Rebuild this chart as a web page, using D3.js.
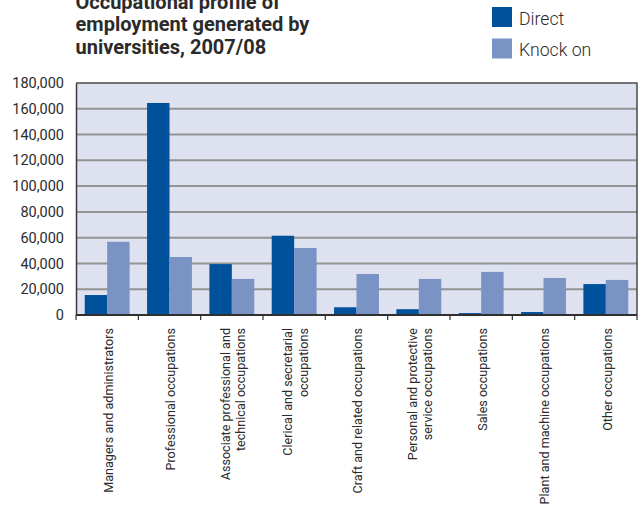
<!DOCTYPE html>
<html>
<head>
<meta charset="utf-8">
<script src="https://cdn.jsdelivr.net/npm/d3@7"></script>
<style>
  html, body { margin: 0; padding: 0; background: #fff; }
  svg { display: block; }
  text { font-family: Roboto, "Noto Sans", sans-serif; fill: #2b2b2b; }
</style>
</head>
<body>
<svg id="chart" width="638" height="507"></svg>
<script>
// Occupation categories (label lines for the rotated axis text)
const categories = [
  ["Managers and administrators"],
  ["Professional occupations"],
  ["Associate professional and", "technical occupations"],
  ["Clerical and secretarial", "occupations"],
  ["Craft and related occupations"],
  ["Personal and protective", "service occupations"],
  ["Sales occupations"],
  ["Plant and machine occupations"],
  ["Other occupations"]
];
const seriesNames = ["Direct", "Knock on"];
const directValues  = [15500, 164500, 39500, 61500, 6000, 4500, 1500, 2300, 24000];
const knockOnValues = [56800, 45000, 28000, 52000, 31800, 28000, 33400, 28700, 27200];
const yTicks = [0, 20000, 40000, 60000, 80000, 100000, 120000, 140000, 160000, 180000];
const titleLines = ["Occupational profile of", "employment generated by", "universities, 2007/08"];

const colors = { "Direct": "#00519b", "Knock on": "#7a93c5" };

const svg = d3.select("#chart");
const plotLeft = 76, plotRight = 637, plotTop = 83, plotBottom = 315;

const keys = categories.map((c, i) => i);
const x0 = d3.scaleBand().domain(keys).range([plotLeft, plotRight]).paddingInner(0.28).paddingOuter(0.14);
const x1 = d3.scaleBand().domain(seriesNames).range([0, x0.bandwidth()]);
const y = d3.scaleLinear().domain([0, 180000]).range([plotBottom, plotTop]);

// plot background
svg.append("rect").attr("x", plotLeft).attr("y", plotTop)
  .attr("width", plotRight - plotLeft).attr("height", plotBottom - plotTop)
  .attr("fill", "#dee1ef");

// horizontal gridlines
svg.append("g").selectAll("line").data(yTicks.filter(t => t > 0 && t < 180000)).join("line")
  .attr("x1", plotLeft).attr("x2", plotRight)
  .attr("y1", d => y(d)).attr("y2", d => y(d))
  .attr("stroke", "#939393").attr("stroke-width", 2);

// bars
const rows = keys.map(i => ({ i, values: [
  { key: "Direct", value: directValues[i] },
  { key: "Knock on", value: knockOnValues[i] }
]}));
svg.append("g").selectAll("g").data(rows).join("g")
  .attr("transform", d => `translate(${x0(d.i)},0)`)
  .selectAll("rect").data(d => d.values).join("rect")
  .attr("x", d => x1(d.key)).attr("width", x1.bandwidth())
  .attr("y", d => y(d.value)).attr("height", d => y(0) - y(d.value))
  .attr("fill", d => colors[d.key]);

// frame: top and right edges
svg.append("path")
  .attr("d", `M${plotLeft},${plotTop}H${plotRight}V${plotBottom}`)
  .attr("fill", "none").attr("stroke", "#4a4a4a").attr("stroke-width", 1.5);

// y axis
const yAxis = svg.append("g").attr("transform", `translate(${plotLeft},0)`)
  .call(d3.axisLeft(y).tickValues(yTicks).tickSize(0).tickPadding(12)
    .tickFormat(d3.format(",")));
yAxis.select(".domain").attr("stroke", "#3a3a3a").attr("stroke-width", 1.5);
yAxis.selectAll("text").attr("font-size", 14.5).attr("fill", "#2b2b2b")
  .style("font-family", "Roboto, sans-serif");

// x axis baseline with boundary ticks
const step = x0.step();
const boundaries = d3.range(categories.length + 1).map(k => plotLeft + k * step);
svg.append("line").attr("x1", plotLeft).attr("x2", plotRight)
  .attr("y1", plotBottom).attr("y2", plotBottom)
  .attr("stroke", "#2f2f2f").attr("stroke-width", 2);
svg.append("g").selectAll("line").data(boundaries).join("line")
  .attr("x1", d => d).attr("x2", d => d)
  .attr("y1", plotBottom).attr("y2", plotBottom + 5)
  .attr("stroke", "#2f2f2f").attr("stroke-width", 1.2);

// rotated category labels
const lineGap = 16;
const lab = svg.append("g").selectAll("text").data(categories).join("text")
  .attr("transform", (d, i) => `translate(${x0(i) + x0.bandwidth() / 2},${plotBottom + 13}) rotate(-90)`)
  .attr("text-anchor", "end")
  .attr("font-size", 12.6);
lab.selectAll("tspan").data(d => d.map((t, k) => ({ t, k, n: d.length }))).join("tspan")
  .attr("x", 0)
  .attr("y", d => (d.k - (d.n - 1) / 2) * lineGap)
  .attr("dy", "0.45em")
  .text(d => d.t);

// title
svg.append("g").selectAll("text").data(titleLines).join("text")
  .attr("x", 75.5).attr("y", (d, i) => 8.5 + i * 22.7)
  .attr("font-size", 20).attr("font-weight", "bold").attr("fill", "#222")
  .text(d => d);

// legend
const legend = svg.append("g").selectAll("g").data(seriesNames).join("g")
  .attr("transform", (d, i) => `translate(492,${7 + i * 31.5})`);
legend.append("rect").attr("width", 20).attr("height", 20).attr("fill", d => colors[d]);
legend.append("text").attr("x", 27).attr("y", 17.5)
  .attr("font-size", 17.7).attr("font-weight", 300).attr("fill", "#2b2b2b").text(d => d);
</script>
</body>
</html>
